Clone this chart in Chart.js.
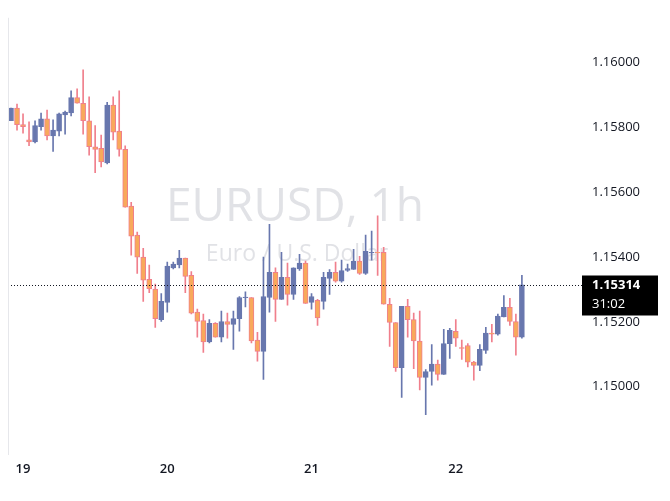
<!DOCTYPE html>
<html>
<head>
<meta charset="utf-8">
<script src="https://cdn.jsdelivr.net/npm/chart.js@4/dist/chart.umd.min.js"></script>
<style>
  html, body { margin: 0; padding: 0; background: #fff; }
  #wrap { width: 670px; height: 501px; }
</style>
</head>
<body>
<div id="wrap"><canvas id="c" width="670" height="501"></canvas></div>
<script>
// candles, one per hour
const opens  = [1.15819,1.15858,1.15807,1.15760,1.15754,1.15801,1.15825,1.15772,1.15787,1.15837,
                1.15843,1.15890,1.15873,1.15819,1.15739,1.15734,1.15689,1.15867,1.15787,1.15731,
                1.15556,1.15467,1.15399,1.15331,1.15301,1.15207,1.15260,1.15366,1.15375,1.15396,
                1.15343,1.15230,1.15204,1.15138,1.15195,1.15153,1.15201,1.15192,1.15210,1.15274,
                1.15275,1.15144,1.15109,1.15275,1.15352,1.15269,1.15337,1.15284,1.15363,1.15381,
                1.15260,1.15266,1.15263,1.15334,1.15352,1.15325,1.15358,1.15361,1.15387,1.15349,
                1.15412,1.15414,1.15414,1.15254,1.15198,1.15059,1.15248,1.15207,1.15141,1.15029,
                1.15047,1.15070,1.15038,1.15133,1.15171,1.15121,1.15127,1.15076,1.15066,1.15112,
                1.15165,1.15162,1.15215,1.15245,1.15201,1.15153];
const highs  = [1.15858,1.15870,1.15840,1.15816,1.15819,1.15843,1.15852,1.15822,1.15843,1.15849,
                1.15911,1.15917,1.15976,1.15893,1.15804,1.15775,1.15876,1.15893,1.15911,1.15742,
                1.15568,1.15476,1.15426,1.15375,1.15316,1.15287,1.15384,1.15384,1.15420,1.15396,
                1.15355,1.15239,1.15224,1.15207,1.15198,1.15233,1.15227,1.15233,1.15278,1.15292,
                1.15275,1.15168,1.15399,1.15500,1.15366,1.15414,1.15381,1.15366,1.15408,1.15387,
                1.15287,1.15269,1.15352,1.15361,1.15384,1.15390,1.15378,1.15423,1.15402,1.15467,
                1.15479,1.15526,1.15429,1.15272,1.15198,1.15248,1.15269,1.15227,1.15233,1.15053,
                1.15130,1.15082,1.15177,1.15180,1.15207,1.15144,1.15133,1.15078,1.15130,1.15183,
                1.15192,1.15224,1.15281,1.15272,1.15224,1.15343];
const lows   = [1.15819,1.15790,1.15781,1.15742,1.15751,1.15790,1.15760,1.15725,1.15772,1.15778,
                1.15834,1.15873,1.15778,1.15713,1.15659,1.15677,1.15686,1.15760,1.15710,1.15553,
                1.15405,1.15349,1.15263,1.15290,1.15183,1.15201,1.15230,1.15363,1.15366,1.15290,
                1.15224,1.15153,1.15106,1.15135,1.15153,1.15138,1.15150,1.15115,1.15171,1.15246,
                1.15135,1.15079,1.15023,1.15230,1.15201,1.15269,1.15251,1.15269,1.15358,1.15257,
                1.15239,1.15189,1.15239,1.15284,1.15322,1.15322,1.15355,1.15361,1.15346,1.15346,
                1.15390,1.15343,1.15254,1.15124,1.15047,1.14967,1.15153,1.15056,1.14990,1.14914,
                1.15005,1.15020,1.15038,1.15087,1.15124,1.15084,1.15061,1.15020,1.15050,1.15103,
                1.15138,1.15159,1.15215,1.15189,1.15097,1.15150];
const closes = [1.15858,1.15807,1.15801,1.15754,1.15804,1.15825,1.15772,1.15790,1.15840,1.15846,
                1.15890,1.15873,1.15819,1.15739,1.15731,1.15692,1.15867,1.15784,1.15731,1.15553,
                1.15464,1.15399,1.15328,1.15301,1.15210,1.15263,1.15372,1.15378,1.15396,1.15340,
                1.15227,1.15201,1.15138,1.15195,1.15153,1.15201,1.15192,1.15210,1.15275,1.15276,
                1.15141,1.15109,1.15278,1.15352,1.15269,1.15337,1.15284,1.15366,1.15381,1.15257,
                1.15278,1.15212,1.15337,1.15352,1.15325,1.15358,1.15364,1.15387,1.15349,1.15417,
                1.15414,1.15412,1.15254,1.15198,1.15059,1.15248,1.15207,1.15141,1.15029,1.15047,
                1.15070,1.15038,1.15133,1.15174,1.15150,1.15118,1.15076,1.15066,1.15115,1.15165,
                1.15162,1.15218,1.15245,1.15201,1.15153,1.15314];

const dayLabels  = ["19", "20", "21", "22"];
const dayTickIdx = [2, 26, 50, 74];
const priceTicks = [1.15000, 1.15200, 1.15400, 1.15600, 1.15800, 1.16000];
const lastPrice  = 1.15314;
const countdown  = "31:02";

const UP_FILL = "#6877ae", UP_LINE = "#6877ae";
const DN_FILL = "#f8a95b", DN_LINE = "#f07f8c";

const up = opens.map((o, i) => closes[i] >= o);
const wickData = highs.map((h, i) => ({ x: i, y: [lows[i], h] }));
const bodyData = opens.map((o, i) => ({ x: i, y: [o, closes[i]] }));

// watermark + last price line/label
const overlay = {
  id: "overlay",
  beforeDatasetsDraw(chart) {
    const { ctx, chartArea: a } = chart;
    ctx.save();
    ctx.fillStyle = "rgba(200,202,210,0.55)";
    ctx.textAlign = "center";
    ctx.textBaseline = "middle";
    ctx.font = "46px 'Open Sans', sans-serif";
    ctx.fillText("EURUSD, 1h", 295, 208);
    ctx.font = "23px 'Open Sans', sans-serif";
    ctx.fillText("Euro / U.S. Dollar", 297, 254);
    ctx.restore();
  },
  afterDatasetsDraw(chart) {
    const { ctx, chartArea: a, scales } = chart;
    const y = Math.round(scales.y.getPixelForValue(lastPrice)) + 0.5;
    ctx.save();
    ctx.strokeStyle = "#131722";
    ctx.lineWidth = 1;
    ctx.setLineDash([1, 2]);
    ctx.beginPath(); ctx.moveTo(a.left, y); ctx.lineTo(a.right, y); ctx.stroke();
    ctx.setLineDash([]);
    ctx.fillStyle = "#000";
    ctx.fillRect(a.right, y - 10, 76, 40);
    ctx.fillStyle = "#fff";
    ctx.textAlign = "left";
    ctx.textBaseline = "middle";
    ctx.font = "bold 13px 'Open Sans', sans-serif";
    ctx.fillText(lastPrice.toFixed(5), a.right + 10, y);
    ctx.font = "13px 'Open Sans', sans-serif";
    ctx.fillText(countdown, a.right + 10, y + 19);
    // borders
    ctx.strokeStyle = "#e6e7eb";
    ctx.beginPath();
    ctx.moveTo(a.left + 0.5, a.top); ctx.lineTo(a.left + 0.5, a.bottom);
    ctx.stroke();
    ctx.restore();
  }
};

new Chart(document.getElementById("c"), {
  type: "bar",
  data: {
    datasets: [
      {
        data: wickData,
        backgroundColor: up.map(u => u ? UP_LINE : DN_LINE),
        barThickness: 1,
        grouped: false,
        order: 2
      },
      {
        data: bodyData,
        backgroundColor: up.map(u => u ? UP_FILL : DN_FILL),
        borderColor: up.map(u => u ? UP_LINE : DN_LINE),
        borderWidth: 1,
        borderSkipped: false,
        barThickness: 5,
        grouped: false,
        order: 1
      }
    ]
  },
  options: {
    responsive: false,
    animation: false,
    layout: { padding: { left: 8, top: 0, right: 0, bottom: 0 } },
    plugins: { legend: { display: false }, tooltip: { enabled: false } },
    scales: {
      x: {
        type: "linear",
        min: -0.5, max: 95,
        offset: false,
        grid: { display: false, drawTicks: false },
        border: { display: false },
        afterBuildTicks: s => { s.ticks = dayTickIdx.map(v => ({ value: v })); },
        afterFit: s => { s.height = 46; },
        ticks: {
          padding: 6,
          color: "#131722",
          font: { family: "'Open Sans', sans-serif", size: 13, weight: "600" },
          callback: v => dayLabels[dayTickIdx.indexOf(v)]
        }
      },
      y: {
        position: "right",
        min: 1.1479, max: 1.16136,
        grid: { display: false, drawTicks: false },
        border: { display: false },
        afterBuildTicks: s => { s.ticks = priceTicks.map(v => ({ value: v })); },
        afterFit: s => { s.width = 88; },
        ticks: {
          padding: 10,
          color: "#131722",
          font: { family: "'Open Sans', sans-serif", size: 13 },
          callback: v => v.toFixed(5)
        }
      }
    }
  },
  plugins: [overlay]
});
</script>
</body>
</html>
